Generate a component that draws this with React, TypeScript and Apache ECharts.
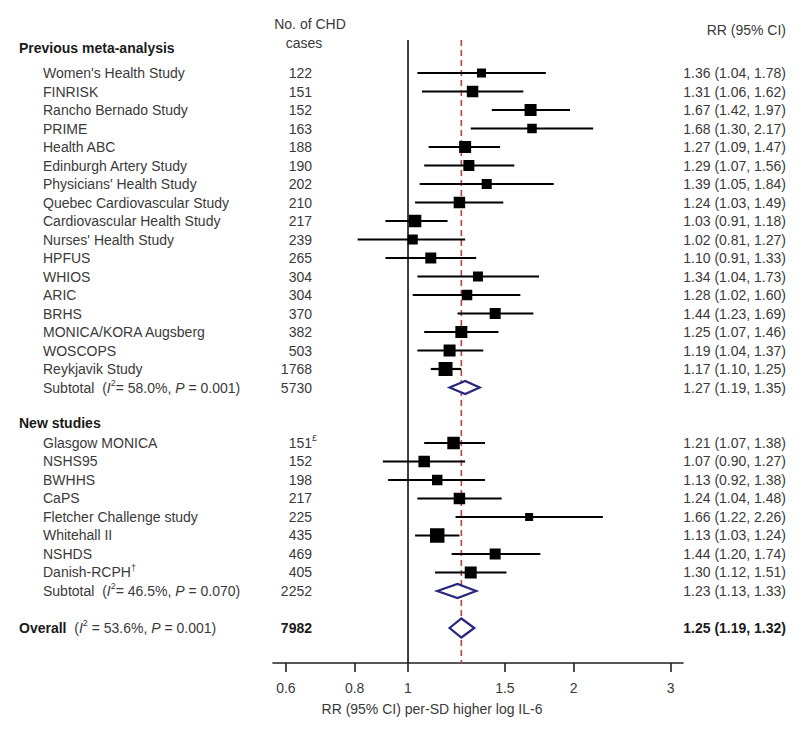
import React, { useEffect, useRef } from 'react';
import * as echarts from 'echarts';

// ---------- data ----------
const prevStudies = [
  "Women's Health Study", 'FINRISK', 'Rancho Bernado Study', 'PRIME', 'Health ABC',
  'Edinburgh Artery Study', "Physicians' Health Study", 'Quebec Cardiovascular Study',
  'Cardiovascular Health Study', "Nurses' Health Study", 'HPFUS', 'WHIOS', 'ARIC', 'BRHS',
  'MONICA/KORA Augsberg', 'WOSCOPS', 'Reykjavik Study',
];
const prevCases = [122, 151, 152, 163, 188, 190, 202, 210, 217, 239, 265, 304, 304, 370, 382, 503, 1768];
const prevRR = [1.36, 1.31, 1.67, 1.68, 1.27, 1.29, 1.39, 1.24, 1.03, 1.02, 1.10, 1.34, 1.28, 1.44, 1.25, 1.19, 1.17];
const prevLower = [1.04, 1.06, 1.42, 1.30, 1.09, 1.07, 1.05, 1.03, 0.91, 0.81, 0.91, 1.04, 1.02, 1.23, 1.07, 1.04, 1.10];
const prevUpper = [1.78, 1.62, 1.97, 2.17, 1.47, 1.56, 1.84, 1.49, 1.18, 1.27, 1.33, 1.73, 1.60, 1.69, 1.46, 1.37, 1.25];
const prevWeights = [9, 11.5, 12, 9.5, 12, 11, 10, 11.5, 12.5, 10, 11, 10, 10.5, 11, 12, 12, 14];

const newStudies = [
  'Glasgow MONICA', 'NSHS95', 'BWHHS', 'CaPS', 'Fletcher Challenge study',
  'Whitehall II', 'NSHDS', 'Danish-RCPH\u2020',
];
const newCases = [151, 152, 198, 217, 225, 435, 469, 405];
const newCaseNotes = ['\u00a3', '', '', '', '', '', '', ''];
const newRR = [1.21, 1.07, 1.13, 1.24, 1.66, 1.13, 1.44, 1.30];
const newLower = [1.07, 0.90, 0.92, 1.04, 1.22, 1.03, 1.20, 1.12];
const newUpper = [1.38, 1.27, 1.38, 1.48, 2.26, 1.24, 1.74, 1.51];
const newWeights = [12.5, 11.5, 10.5, 11.5, 8, 14.5, 11, 12];

// subtotal / overall: [rr, lower, upper]
const prevSubtotal = [1.27, 1.19, 1.35];
const newSubtotal = [1.23, 1.13, 1.33];
const overallPooled = [1.25, 1.19, 1.32];
const prevTotalCases = 5730;
const newTotalCases = 2252;
const overallCases = 7982;
const prevI2 = 58.0;
const prevP = '0.001';
const newI2 = 46.5;
const newP = '0.070';
const overallI2 = 53.6;
const overallP = '0.001';

const axisTickValues = [0.6, 0.8, 1, 1.5, 2, 3];
const sectionTitles = ['Previous meta-analysis', 'New studies'];

// ---------- styling ----------
const FONT = '"Liberation Sans", Arial, Helvetica, sans-serif';
const TXT = '#3a3a3a';
const DARK = '#1a1a1a';
const NAVY = '#27277f';
const RED = '#b4463f';

const tok = (fs: number, extra: any = {}) => ({
  fontSize: fs, fontFamily: FONT, fill: TXT, color: TXT, lineHeight: 18, ...extra,
});
const RICH = {
  n: tok(14),
  b: tok(14, { fontWeight: 'bold', fill: DARK, color: DARK }),
  i: tok(14, { fontStyle: 'italic' }),
  sup: tok(9, { verticalAlign: 'top' }),
};

const fmt2 = (v: number) => v.toFixed(2);
const ciText = (a: number[]) => `${fmt2(a[0])} (${fmt2(a[1])}, ${fmt2(a[2])})`;
const nameRich = (s: string) => {
  const m = s.match(/^(.*?)([\u2020\u00a3]?)$/);
  const base = m ? m[1] : s;
  const note = m ? m[2] : '';
  return `{n|${base}}` + (note ? `{sup|${note}}` : '');
};
const hetRich = (lead: string, leadBold: boolean, i2: number, p: string, spaceEq: boolean) =>
  `{${leadBold ? 'b' : 'n'}|${lead}}{n|  (}{i|I}{sup|2}{n|${spaceEq ? ' ' : ''}= ${i2.toFixed(1)}%, }{i|P}{n| = ${p})}`;

type Row = {
  row: number; label: string; indent: boolean; cases?: string; caseNote?: string;
  bold?: boolean; rr?: string;
};

function buildRows(): Row[] {
  const rows: Row[] = [];
  rows.push({ row: -1.35, label: `{b|${sectionTitles[0]}}`, indent: false });
  prevStudies.forEach((s, k) => rows.push({
    row: k, label: nameRich(s), indent: true, cases: String(prevCases[k]),
    rr: ciText([prevRR[k], prevLower[k], prevUpper[k]]),
  }));
  const ps = prevStudies.length; // 17
  rows.push({ row: ps, label: hetRich('Subtotal', false, prevI2, prevP, false), indent: true,
    cases: String(prevTotalCases), rr: ciText(prevSubtotal) });
  const ns0 = ps + 3; // 20
  rows.push({ row: ns0 - 1.1, label: `{b|${sectionTitles[1]}}`, indent: false });
  newStudies.forEach((s, k) => rows.push({
    row: ns0 + k, label: nameRich(s), indent: true, cases: String(newCases[k]),
    caseNote: newCaseNotes[k], rr: ciText([newRR[k], newLower[k], newUpper[k]]),
  }));
  const nsub = ns0 + newStudies.length; // 28
  rows.push({ row: nsub, label: hetRich('Subtotal', false, newI2, newP, false), indent: true,
    cases: String(newTotalCases), rr: ciText(newSubtotal) });
  rows.push({ row: nsub + 2, label: hetRich('Overall', true, overallI2, overallP, true), indent: false,
    cases: String(overallCases), rr: ciText(overallPooled), bold: true });
  return rows;
}

export default function App() {
  const ref = useRef<HTMLDivElement>(null);
  useEffect(() => {
    if (!ref.current) return;
    const chart = echarts.init(ref.current, undefined, { renderer: 'svg' });
    const rows = buildRows();
    const ps = prevStudies.length;
    const ns0 = ps + 3;
    const nsub = ns0 + newStudies.length;

    const studyData: number[][] = [];
    prevStudies.forEach((_, k) => studyData.push([
      Math.log(prevLower[k]), Math.log(prevRR[k]), Math.log(prevUpper[k]), k, prevWeights[k]]));
    newStudies.forEach((_, k) => studyData.push([
      Math.log(newLower[k]), Math.log(newRR[k]), Math.log(newUpper[k]), ns0 + k, newWeights[k]]));

    const diamondData = [
      [Math.log(prevSubtotal[1]), Math.log(prevSubtotal[0]), Math.log(prevSubtotal[2]), ps, 6.5],
      [Math.log(newSubtotal[1]), Math.log(newSubtotal[0]), Math.log(newSubtotal[2]), nsub, 7],
      [Math.log(overallPooled[1]), Math.log(overallPooled[0]), Math.log(overallPooled[2]), nsub + 2, 9.5],
    ];

    const option: any = {
      animation: false,
      backgroundColor: '#ffffff',
      grid: { left: 273, right: 117, top: 40, bottom: 68, containLabel: false },
      xAxis: {
        type: 'value',
        min: -0.5649,
        max: 1.1506,
        axisLine: { show: true, onZero: false, lineStyle: { color: '#222', width: 1.6 } },
        axisTick: {
          show: true, length: 9, inside: false,
          lineStyle: { color: '#222', width: 1.6 },
          customValues: axisTickValues.map((v) => Math.log(v)),
        },
        axisLabel: {
          show: true, margin: 18, fontSize: 14, fontFamily: FONT, color: TXT,
          customValues: axisTickValues.map((v) => Math.log(v)),
          formatter: (v: number) => String(+Math.exp(v).toFixed(2)),
        },
        splitLine: { show: false },
      },
      yAxis: {
        type: 'value', inverse: true, min: -1.784, max: 31.892, show: false,
        splitLine: { show: false },
      },
      graphic: [
        { type: 'text', x: 310, y: 24, style: { text: 'No. of CHD', font: `14px ${FONT}`, fill: TXT,
          align: 'center', textAlign: 'center', verticalAlign: 'middle', textVerticalAlign: 'middle' } },
        { type: 'text', x: 304, y: 43, style: { text: 'cases', font: `14px ${FONT}`, fill: TXT,
          align: 'center', textAlign: 'center', verticalAlign: 'middle', textVerticalAlign: 'middle' } },
        { type: 'text', x: 786, y: 30, style: { text: 'RR (95% CI)', font: `14px ${FONT}`, fill: TXT,
          align: 'right', textAlign: 'right', verticalAlign: 'middle', textVerticalAlign: 'middle' } },
        { type: 'text', x: 432, y: 709, style: { text: 'RR (95% CI) per-SD higher log IL-6', font: `14px ${FONT}`, fill: TXT,
          align: 'center', textAlign: 'center', verticalAlign: 'middle', textVerticalAlign: 'middle' } },
      ],
      series: [
        {
          // reference lines: null effect (1) and pooled estimate
          type: 'custom',
          clip: false,
          data: [[0, 0], [Math.log(overallPooled[0]), 1]],
          renderItem: (params: any, api: any) => {
            const x = api.coord([api.value(0), 0])[0];
            const cs = params.coordSys;
            const dashed = api.value(1) === 1;
            return {
              type: 'line',
              shape: { x1: x, y1: cs.y, x2: x, y2: cs.y + cs.height },
              style: dashed
                ? { stroke: RED, lineWidth: 1.6, lineDash: [6, 4] }
                : { stroke: '#111', lineWidth: 1.6 },
            };
          },
          z: 1,
        },
        {
          type: 'custom',
          clip: false,
          data: studyData,
          encode: { x: [0, 1, 2], y: 3 },
          renderItem: (_p: any, api: any) => {
            const row = api.value(3);
            const lo = api.coord([api.value(0), row]);
            const hi = api.coord([api.value(2), row]);
            const c = api.coord([api.value(1), row]);
            const s = api.value(4);
            return {
              type: 'group',
              children: [
                { type: 'line', shape: { x1: lo[0], y1: lo[1], x2: hi[0], y2: hi[1] },
                  style: { stroke: '#000', lineWidth: 2.2 } },
                { type: 'rect', shape: { x: c[0] - s / 2, y: c[1] - s / 2, width: s, height: s },
                  style: { fill: '#000' } },
              ],
            };
          },
          z: 3,
        },
        {
          type: 'custom',
          clip: false,
          data: diamondData,
          encode: { x: [0, 1, 2], y: 3 },
          renderItem: (_p: any, api: any) => {
            const row = api.value(3);
            const lo = api.coord([api.value(0), row]);
            const hi = api.coord([api.value(2), row]);
            const c = api.coord([api.value(1), row]);
            const h = api.value(4);
            return {
              type: 'polygon',
              shape: { points: [[lo[0], lo[1]], [c[0], c[1] - h], [hi[0], hi[1]], [c[0], c[1] + h]] },
              style: { fill: '#fff', stroke: NAVY, lineWidth: 2.2 },
            };
          },
          z: 4,
        },
        {
          type: 'custom',
          clip: false,
          silent: true,
          data: rows.map((r) => [0, r.row]),
          encode: { x: 0, y: 1 },
          renderItem: (params: any, api: any) => {
            const r = rows[params.dataIndex];
            const y = api.coord([0, api.value(1)])[1];
            const children: any[] = [];
            children.push({
              type: 'text', x: r.indent ? 43 : 19, y,
              style: { text: r.label, rich: RICH, font: `14px ${FONT}`, fill: TXT,
                align: 'left', textAlign: 'left', verticalAlign: 'middle', textVerticalAlign: 'middle' },
            });
            if (r.cases) {
              children.push({
                type: 'text', x: 312, y,
                style: { text: r.cases, font: `${r.bold ? 'bold ' : ''}14px ${FONT}`, fill: r.bold ? DARK : TXT,
                  align: 'right', textAlign: 'right', verticalAlign: 'middle', textVerticalAlign: 'middle' },
              });
            }
            if (r.caseNote) {
              children.push({
                type: 'text', x: 312, y: y - 5,
                style: { text: r.caseNote, font: `9px ${FONT}`, fill: TXT,
                  align: 'left', textAlign: 'left', verticalAlign: 'middle', textVerticalAlign: 'middle' },
              });
            }
            if (r.rr) {
              children.push({
                type: 'text', x: 786, y,
                style: { text: r.rr, font: `${r.bold ? 'bold ' : ''}14px ${FONT}`, fill: r.bold ? DARK : TXT,
                  align: 'right', textAlign: 'right', verticalAlign: 'middle', textVerticalAlign: 'middle' },
              });
            }
            return { type: 'group', children };
          },
          z: 5,
        },
      ],
    };
    chart.setOption(option);
    return () => chart.dispose();
  }, []);
  return (
    <div
      ref={ref}
      style={{ position: 'fixed', left: 0, top: 0, width: 800, height: 731, background: '#fff' }}
    />
  );
}
